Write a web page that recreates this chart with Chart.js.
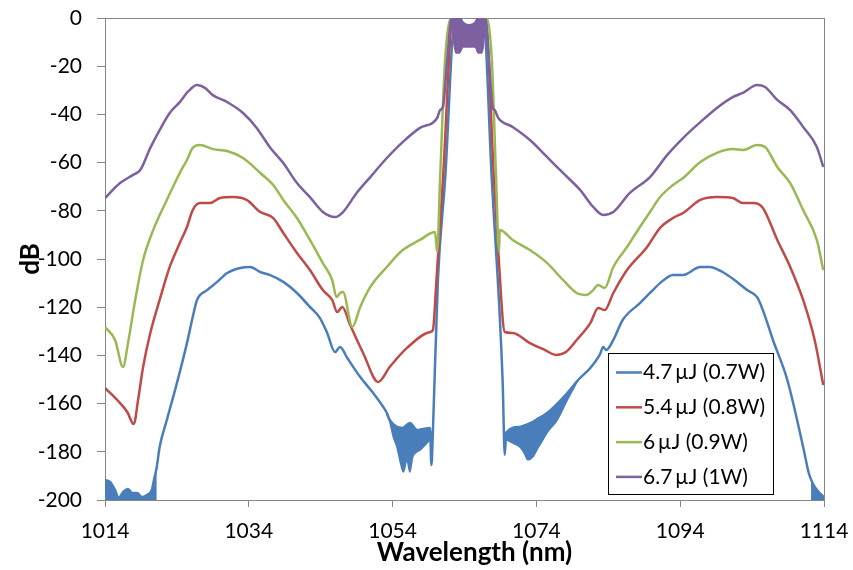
<!DOCTYPE html>
<html>
<head>
<meta charset="utf-8">
<script src="https://cdn.jsdelivr.net/npm/chart.js@4/dist/chart.umd.min.js"></script>
<style>
  html, body { margin: 0; padding: 0; background: #fff; }
  canvas { display: block; }
</style>
</head>
<body>
<canvas id="spectrum" width="853" height="570"></canvas>
<script>
// Output spectra (dB) versus wavelength (nm) for four pulse energies.

const seriesLabels = ['4.7\u2009µJ (0.7W)', '5.4\u2009µJ (0.8W)', '6\u2009µJ (0.9W)', '6.7\u2009µJ (1W)'];
const seriesColors = ['#4A7EBB', '#BE4B48', '#98B954', '#7D60A0'];
const xAxisTitle = 'Wavelength (nm)';
const yAxisTitle = 'dB';

const xTicksMin = 1014, xTicksMax = 1114, xTickStep = 20;
const yTicksMin = -200, yTicksMax = 0, yTickStep = 20;

// 4.7 µJ (0.7 W)
const wl47 = [1014.0, 1014.7, 1015.4, 1015.9, 1016.5, 1017.2, 1017.8, 1018.5, 1019.1, 1019.8, 1020.5, 1020.9, 1021.2, 1021.6,
  1022.6, 1024.0, 1025.4, 1026.2, 1026.8, 1028.2, 1029.6, 1031.0, 1032.8, 1034.2, 1035.6, 1036.9, 1038.8, 1040.7,
  1042.5, 1043.9, 1044.9, 1046.0, 1046.7, 1047.7, 1049.5, 1051.3, 1052.7, 1053.2, 1053.6, 1054.6, 1055.4, 1056.4,
  1057.4, 1059.2, 1059.4, 1059.6, 1060.3, 1061.3, 1062.7, 1064.7, 1066.6, 1067.8, 1069.3, 1069.6, 1069.8, 1071.7,
  1073.5, 1075.5, 1078.3, 1079.8, 1081.5, 1082.8, 1083.3, 1083.7, 1084.7, 1086.0, 1088.4, 1089.8, 1091.2, 1093.0,
  1094.4, 1096.8, 1098.1, 1099.9, 1101.9, 1103.3, 1104.7, 1105.5, 1106.9, 1108.9, 1111.1, 1111.9, 1112.5, 1113.2, 1114.0];
const db47 = [-191.7, -192.5, -195.9, -199.2, -196.7, -195.4, -197.1, -197.1, -198.8, -198.0, -195.9, -190.5, -186.3, -178.0,
  -166.8, -151.5, -134.9, -124.1, -117.0, -112.9, -109.5, -105.8, -103.7, -103.3, -105.4, -106.6, -109.5, -114.1,
  -119.9, -124.5, -130.7, -138.6, -136.5, -141.1, -149.0, -155.6, -161.4, -163.9, -166.8, -169.7, -170.1, -168.0,
  -171.0, -170.1, -185.5, -172.0, -108.7, -67.2, 0, -7, 0, -67.2, -150.2, -181.3, -172.0, -169.7,
  -167.6, -163.9, -155.6, -150.2, -145.2, -139.8, -136.5, -137.8, -133.6, -125.3, -118.3, -114.1, -110.0, -106.6,
  -106.6, -103.3, -103.3, -105.4, -109.5, -112.9, -115.8, -121.2, -133.6, -150.2, -178.0, -189.0, -193.5, -196.5, -198.8];

// 4.7 µJ: dense ripple envelopes (upper / lower)
const ripple47LeftWl = [1053.2, 1053.6, 1054.1, 1054.6, 1055.0, 1055.5, 1056.0, 1056.4, 1056.8, 1057.4, 1057.8, 1058.8, 1059.2];
const ripple47LeftTop = [-163.9, -166.8, -168.5, -169.7, -170.0, -170.1, -169.5, -168.0, -169.5, -171.0, -170.8, -170.4, -170.1];
const ripple47LeftBottom = [-164.5, -167.5, -173.9, -178.0, -183.4, -188.4, -183.4, -188.4, -182.2, -180.0, -179.3, -176.3, -175.1];
const ripple47RightWl = [1069.8, 1070.8, 1071.7, 1072.3, 1072.8, 1073.5, 1074.2, 1074.9, 1075.5, 1076.9, 1078.3, 1079.8];
const ripple47RightTop = [-172.0, -170.5, -169.7, -169.0, -168.5, -167.6, -166.0, -165.0, -163.9, -160.0, -155.6, -150.2];
const ripple47RightBottom = [-175.0, -176.5, -178.0, -180.5, -183.4, -182.2, -178.5, -175.1, -172.0, -166.8, -158.5, -150.2];
// 4.7 µJ: ripple running into the floor at both ends
const floor47LeftWl = [1014.0, 1014.7, 1015.4, 1015.9, 1016.5, 1017.2, 1017.8, 1018.5, 1019.1, 1019.8, 1020.5, 1020.9, 1021.2];
const floor47LeftDb = [-191.7, -192.5, -195.9, -199.2, -196.7, -195.4, -197.1, -197.1, -198.8, -198.0, -195.9, -190.5, -186.3];
const floor47RightWl = [1112.2, 1112.5, 1113.2, 1114.0];
const floor47RightDb = [-192.0, -193.5, -196.5, -198.8];

// 5.4 µJ (0.8 W)
const wl54 = [1014.0, 1015.7, 1017.1, 1018.0, 1018.6, 1019.3, 1020.3, 1021.6, 1023.0, 1024.4, 1025.4, 1026.2, 1027.2, 1028.6,
  1030.0, 1031.8, 1033.7, 1035.6, 1037.4, 1038.8, 1040.7, 1042.5, 1044.3, 1045.6, 1046.3, 1047.0, 1048.1, 1049.9,
  1052.0, 1053.6, 1056.0, 1059.2, 1059.6, 1060.1, 1061.0, 1062.4, 1064.7, 1066.9, 1068.1, 1068.7, 1069.6, 1070.7,
  1073.1, 1075.2, 1076.7, 1078.1, 1079.6, 1081.5, 1082.6, 1083.5, 1084.7, 1086.6, 1089.4, 1091.2, 1093.0, 1094.4,
  1096.8, 1099.1, 1101.3, 1102.7, 1104.1, 1105.5, 1107.5, 1109.3, 1111.1, 1112.7, 1113.9];
const db54 = [-153.5, -158.5, -163.5, -168.5, -158.5, -144.8, -130.7, -117.0, -103.3, -93.4, -86.7, -79.7, -76.8, -76.8,
  -74.7, -74.3, -75.5, -80.5, -83.0, -89.2, -97.5, -104.6, -112.9, -117.0, -122.0, -119.9, -127.4, -139.0,
  -151.0, -144.8, -136.9, -130.3, -129.5, -108.7, -67.2, 0, -7, 0, -67.2, -97.0, -130.3, -130.7,
  -134.9, -137.8, -139.8, -138.6, -133.6, -126.6, -120.3, -121.2, -114.1, -104.6, -95.0, -87.1, -83.0, -80.9,
  -75.5, -74.3, -74.7, -76.8, -76.8, -78.8, -92.1, -103.3, -117.0, -133.6, -152.3];

// 6 µJ (0.9 W)
const wl60 = [1014.0, 1015.4, 1016.5, 1017.2, 1018.2, 1019.3, 1020.7, 1022.6, 1024.4, 1025.4, 1026.2, 1027.2, 1029.0, 1031.0,
  1033.2, 1035.6, 1037.4, 1038.8, 1040.7, 1042.5, 1044.3, 1045.6, 1046.2, 1046.7, 1047.1, 1048.4, 1049.5, 1050.9,
  1053.2, 1055.4, 1057.8, 1059.9, 1060.2, 1060.6, 1061.3, 1062.1, 1064.7, 1067.1, 1067.8, 1068.4, 1068.8, 1068.9,
  1070.7, 1073.1, 1075.5, 1077.7, 1079.6, 1081.0, 1081.9, 1082.6, 1083.5, 1084.7, 1086.6, 1088.4, 1089.8, 1091.2,
  1093.0, 1094.4, 1096.8, 1099.1, 1101.3, 1102.7, 1104.7, 1105.8, 1107.5, 1109.3, 1111.1, 1113.0, 1113.9];
const db60 = [-128.2, -133.6, -144.8, -134.9, -117.0, -100.4, -88.0, -75.5, -64.3, -58.9, -53.9, -52.7, -54.4, -55.2,
  -58.1, -64.3, -69.3, -75.5, -83.0, -92.1, -101.7, -108.7, -115.8, -114.1, -113.7, -128.2, -119.9, -111.6,
  -103.3, -96.3, -92.1, -88.8, -97.1, -67.2, -17.4, 0, -7, 0, -17.4, -67.2, -97.1, -88.0,
  -92.1, -96.3, -101.7, -108.7, -114.1, -114.9, -112.9, -110.8, -112.0, -103.3, -95.0, -86.7, -80.5, -74.3,
  -69.3, -66.4, -59.8, -56.0, -54.4, -54.8, -52.7, -53.5, -61.8, -68.5, -79.7, -92.1, -104.6];

// 6.7 µJ (1 W)
const wl67 = [1014.0, 1016.1, 1017.9, 1018.9, 1020.3, 1021.6, 1023.0, 1024.4, 1025.5, 1026.8, 1027.9, 1029.0, 1031.0, 1033.2,
  1035.1, 1036.9, 1038.8, 1040.7, 1042.5, 1044.3, 1046.0, 1047.1, 1049.0, 1050.9, 1053.2, 1055.4, 1057.8, 1060.2,
  1060.6, 1061.0, 1061.6, 1062.2, 1062.8, 1063.3, 1063.8, 1064.6, 1065.5, 1065.9, 1066.4, 1066.9, 1067.4, 1067.9,
  1068.2, 1068.7, 1070.7, 1073.1, 1075.5, 1077.7, 1080.1, 1081.9, 1083.3, 1084.7, 1087.0, 1089.8, 1092.2, 1094.4,
  1096.8, 1099.1, 1101.3, 1102.7, 1104.7, 1105.8, 1107.5, 1109.3, 1111.1, 1113.0, 1113.9];
const db67 = [-74.7, -68.5, -65.1, -63.1, -53.9, -46.5, -39.4, -34.9, -30.7, -27.8, -29.0, -32.0, -34.9, -39.4,
  -45.6, -53.5, -60.2, -68.5, -74.3, -80.5, -82.6, -80.5, -72.6, -66.0, -58.1, -51.5, -45.6, -41.5,
  -38.2, -36.9, -17.4, 0, 0, 0, -2, -3, -2, 0, 0, 0, -17.4, -36.9,
  -38.2, -41.5, -45.2, -50.6, -57.7, -64.3, -71.4, -78.4, -81.7, -80.5, -72.6, -66.0, -56.8, -49.8,
  -43.2, -37.3, -32.8, -31.1, -27.8, -28.6, -34.0, -38.2, -45.2, -53.5, -61.8];

// 6.7 µJ: ripple band across the signal peak
const ripple67Wl = [1062.2, 1062.6, 1062.8, 1063.3, 1063.8, 1064.6, 1065.5, 1065.9, 1066.4, 1066.6, 1066.9];
const ripple67Top = [0, 0, 0, 0, -2, -3, -2, 0, 0, 0, 0];
const ripple67Bottom = [-2, -12, -14.5, -14.5, -12, -12, -12, -14.5, -14.5, -12, -2];

const pts = (xs, ys) => xs.map((x, i) => ({ x: x, y: ys[i] }));

function trace(label, xs, ys, color, order, extra) {
  return Object.assign({
    label: label,
    data: pts(xs, ys),
    borderColor: color,
    backgroundColor: color,
    borderWidth: 2.5,
    pointRadius: 0,
    cubicInterpolationMode: 'monotone',
    fill: false,
    order: order
  }, extra || {});
}

const datasets = [
  trace(seriesLabels[0], wl47, db47, seriesColors[0], 10, { series: true }),
  trace('', floor47LeftWl, floor47LeftDb, seriesColors[0], 11, { fill: 'start', borderWidth: 1 }),
  trace('', ripple47LeftWl, ripple47LeftTop, seriesColors[0], 11, { borderWidth: 1.5 }),
  trace('', ripple47LeftWl, ripple47LeftBottom, seriesColors[0], 11, { fill: '-1', borderWidth: 1.5 }),
  trace('', ripple47RightWl, ripple47RightTop, seriesColors[0], 11, { borderWidth: 1.5 }),
  trace('', ripple47RightWl, ripple47RightBottom, seriesColors[0], 11, { fill: '-1', borderWidth: 1.5 }),
  trace('', floor47RightWl, floor47RightDb, seriesColors[0], 11, { fill: 'start', borderWidth: 1 }),
  trace(seriesLabels[1], wl54, db54, seriesColors[1], 8, { series: true }),
  trace(seriesLabels[2], wl60, db60, seriesColors[2], 6, { series: true }),
  trace(seriesLabels[3], wl67, db67, seriesColors[3], 4, { series: true }),
  trace('', ripple67Wl, ripple67Top, seriesColors[3], 3, { borderWidth: 1.5 }),
  trace('', ripple67Wl, ripple67Bottom, seriesColors[3], 3, { fill: '-1', borderWidth: 1.5 })
];

// Boxed legend in the lower right of the plot area, plus the wavelength axis title
const boxedLegend = {
  id: 'boxedLegend',
  afterDraw(chart) {
    const { ctx, chartArea } = chart;
    const items = chart.data.datasets.filter(d => d.series);
    const w = 165, h = 141, step = 34.8;
    const x0 = Math.round(chartArea.right - 51 - w);
    const y0 = Math.round(chartArea.bottom - 6 - h);
    ctx.save();
    ctx.fillStyle = '#ffffff';
    ctx.fillRect(x0, y0, w, h);
    ctx.strokeStyle = '#000000';
    ctx.lineWidth = 1;
    ctx.strokeRect(x0 + 0.5, y0 + 0.5, w, h);
    ctx.font = '21px Lato';
    ctx.textBaseline = 'middle';
    ctx.textAlign = 'left';
    items.forEach((d, i) => {
      const y = y0 + 19.5 + i * step;
      ctx.strokeStyle = d.borderColor;
      ctx.lineWidth = 2.5;
      ctx.beginPath();
      ctx.moveTo(x0 + 8, y);
      ctx.lineTo(x0 + 34, y);
      ctx.stroke();
      ctx.fillStyle = '#000000';
      ctx.fillText(d.label, x0 + 35, y);
    });

    ctx.font = 'bold 26px Lato';
    ctx.textAlign = 'center';
    ctx.textBaseline = 'middle';
    ctx.fillStyle = '#000000';
    ctx.fillText(xAxisTitle, (chartArea.left + chartArea.right) / 2 + 10, chartArea.bottom + 53);
    ctx.restore();
  }
};

const axisGrey = '#868686';

new Chart(document.getElementById('spectrum'), {
  type: 'line',
  data: { datasets: datasets },
  plugins: [boxedLegend],
  options: {
    responsive: false,
    animation: false,
    devicePixelRatio: 1,
    events: [],
    layout: { padding: { top: 18, right: 29, left: 0, bottom: 0 } },
    plugins: { legend: { display: false }, tooltip: { enabled: false } },
    font: { family: 'Lato' },
    scales: {
      x: {
        type: 'linear',
        min: xTicksMin,
        max: xTicksMax,
        afterFit(scale) { scale.height = 70; scale.paddingLeft = 0; scale.paddingRight = 0; },
        ticks: {
          stepSize: xTickStep,
          color: '#000',
          font: { family: 'Lato', size: 21 },
          padding: 12,
          maxRotation: 0,
          callback: v => String(v)
        },
        grid: {
          drawOnChartArea: true,
          tickLength: 7,
          tickColor: axisGrey,
          color: ctx => (ctx.tick && ctx.tick.value === xTicksMax) ? axisGrey : 'rgba(0,0,0,0)'
        },
        border: { display: true, color: axisGrey, width: 1 },
        title: { display: false }
      },
      y: {
        type: 'linear',
        min: yTicksMin,
        max: yTicksMax,
        afterFit(scale) { scale.width = 105; scale.paddingTop = 0; scale.paddingBottom = 0; },
        ticks: { stepSize: yTickStep, color: '#000', font: { family: 'Lato', size: 21 }, padding: 15 },
        grid: {
          drawOnChartArea: true,
          tickLength: 8,
          tickColor: axisGrey,
          color: ctx => (ctx.tick && ctx.tick.value === yTicksMax) ? axisGrey : 'rgba(0,0,0,0)'
        },
        border: { display: true, color: axisGrey, width: 1 },
        title: {
          display: true,
          text: yAxisTitle,
          color: '#000',
          font: { family: 'Lato', size: 26, weight: 'bold' },
          padding: { top: 15, bottom: 0 }
        }
      }
    }
  }
});
</script>
</body>
</html>
